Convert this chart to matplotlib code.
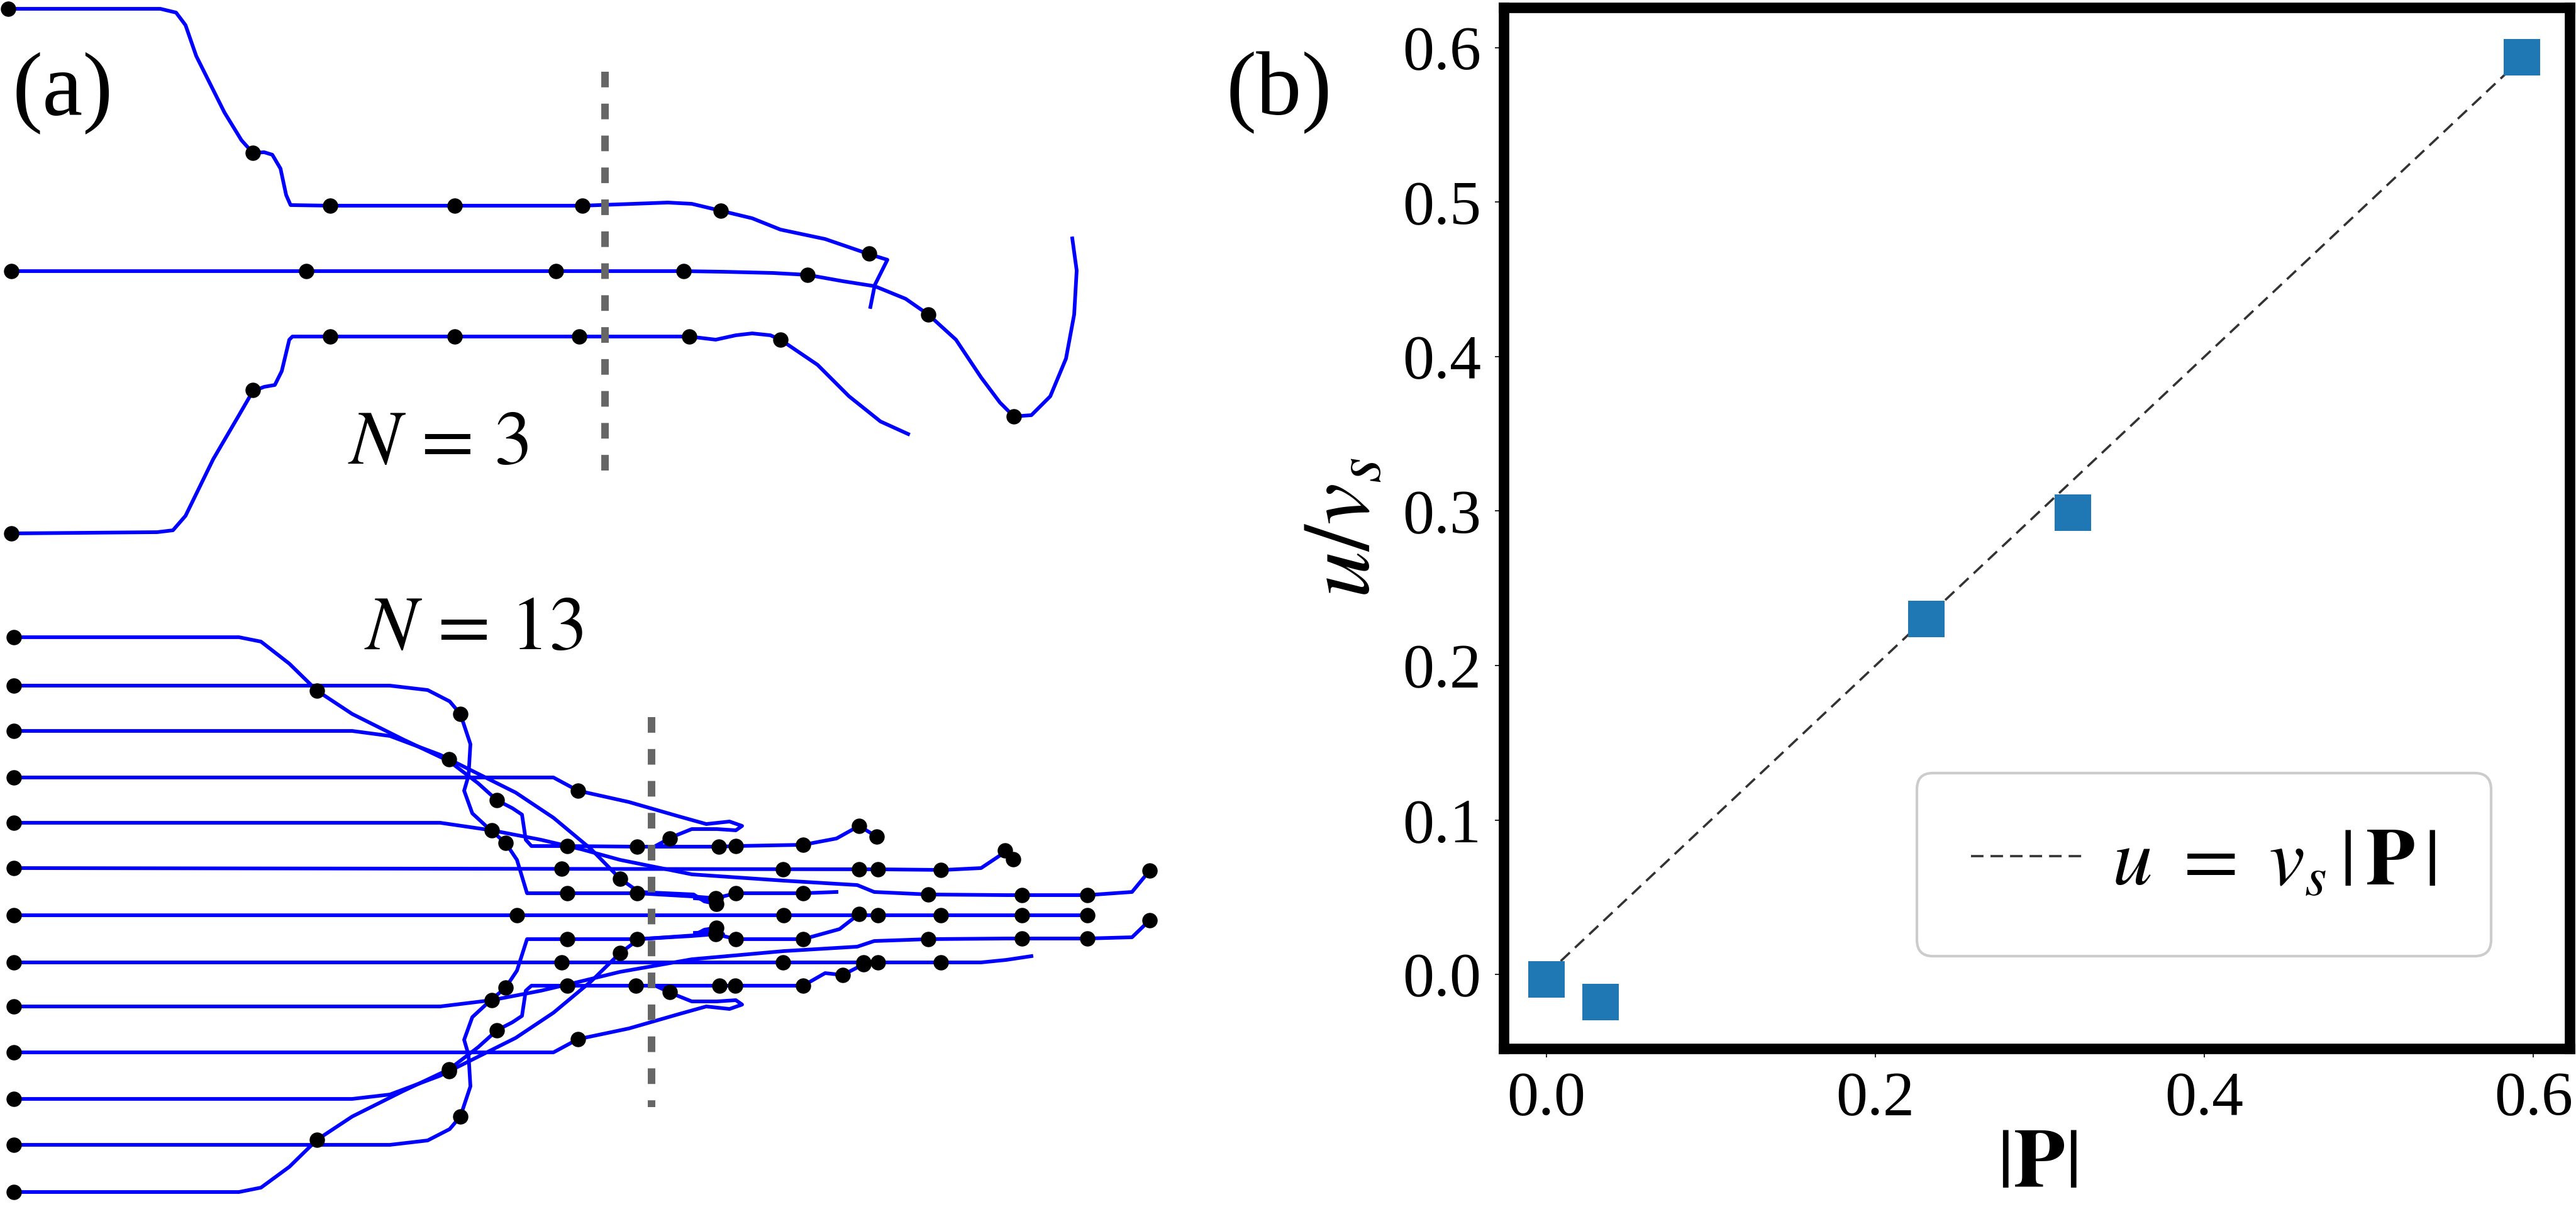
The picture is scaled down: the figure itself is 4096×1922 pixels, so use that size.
import matplotlib
matplotlib.use('Agg')
import matplotlib.pyplot as plt

plt.rcParams['mathtext.fontset'] = 'stix'
plt.rcParams['font.family'] = ['Liberation Serif', 'DejaVu Serif']

# ---------------- panel (a): trajectories (image pixel coordinates) ----------------
# N = 3
n3_t1_x = [13, 255, 280, 295, 312, 357, 384, 402, 420, 433, 446, 455, 462, 525, 723, 926, 1062, 1100, 1146, 1196, 1241, 1312, 1382, 1411, 1400, 1391, 1384]
n3_t1_y = [14, 14, 20, 40, 89, 179, 223, 243, 242, 246, 268, 310, 326, 327, 327, 327, 322, 324, 335, 347, 365, 380, 404, 413, 435, 453, 488]
n3_t2_x = [18, 1087, 1150, 1230, 1284, 1340, 1391, 1440, 1476, 1520, 1560, 1590, 1612, 1640, 1670, 1695, 1708, 1712, 1705]
n3_t2_y = [431, 431, 432, 434, 437, 447, 455, 475, 500, 540, 600, 640, 662, 660, 630, 570, 500, 430, 379]
n3_t3_x = [18, 250, 275, 295, 339, 380, 402, 420, 437, 448, 460, 465, 525, 723, 921, 1096, 1138, 1170, 1196, 1225, 1241, 1300, 1350, 1400, 1444]
n3_t3_y = [848, 846, 843, 820, 730, 660, 622, 615, 612, 590, 540, 535, 535, 535, 535, 535, 540, 533, 530, 533, 540, 580, 630, 670, 690]
n3_dots_x = [13, 402, 525, 723, 926, 1146, 1382, 18, 487, 884, 1087, 1284, 1476, 1612, 18, 402, 525, 723, 921, 1096, 1241]
n3_dots_y = [14, 243, 327, 327, 327, 335, 403, 431, 431, 431, 431, 437, 500, 662, 848, 620, 535, 535, 535, 535, 540]

# N = 13
n13_paths = [
    ([22, 380, 415, 460, 504, 560, 640, 714, 760, 790, 815, 830, 836, 845, 902, 1013, 1143, 1170, 1277, 1330, 1366, 1394],
     [1013, 1013, 1020, 1055, 1098, 1135, 1175, 1210, 1245, 1272, 1285, 1295, 1335, 1345, 1345, 1346, 1346, 1345, 1343, 1333, 1313, 1330]),
    ([22, 620, 680, 715, 732, 748, 745, 738, 751, 777, 804, 822, 838, 902, 1013, 1100, 1138, 1170, 1277, 1330],
     [1090, 1090, 1097, 1115, 1135, 1183, 1233, 1257, 1293, 1317, 1340, 1367, 1420, 1420, 1420, 1425, 1428, 1420, 1420, 1418]),
    ([22, 560, 620, 700, 760, 820, 880, 940, 986, 1016, 1060, 1103, 1120, 1139, 1150, 1130, 1105],
     [1162, 1162, 1170, 1200, 1230, 1260, 1300, 1350, 1397, 1418, 1420, 1422, 1433, 1437, 1425, 1430, 1428]),
    ([22, 880, 919, 1000, 1080, 1123, 1160, 1180, 1170, 1140, 1100, 1070, 1042, 1060],
     [1236, 1236, 1257, 1275, 1298, 1310, 1306, 1313, 1320, 1318, 1318, 1330, 1345, 1345]),
    ([22, 700, 782, 860, 924, 986, 1100, 1246, 1363, 1390, 1476, 1600, 1729, 1800, 1828],
     [1308, 1308, 1320, 1335, 1350, 1367, 1390, 1400, 1407, 1418, 1422, 1423, 1423, 1418, 1384]),
    ([22, 1400, 1500, 1560, 1590, 1598, 1611],
     [1380, 1382, 1383, 1380, 1360, 1352, 1366]),
    ([22, 1729],
     [1455, 1455]),
    ([22, 1560, 1600, 1640],
     [1530, 1530, 1526, 1520]),
    ([22, 700, 782, 860, 924, 986, 1100, 1246, 1363, 1390, 1476, 1600, 1729, 1800, 1828],
     [1600, 1600, 1590, 1575, 1560, 1545, 1525, 1512, 1505, 1496, 1493, 1492, 1492, 1490, 1463]),
    ([22, 880, 919, 1000, 1080, 1123, 1160, 1180, 1170, 1140, 1100, 1070, 1042, 1060],
     [1673, 1673, 1652, 1635, 1612, 1600, 1604, 1597, 1590, 1592, 1592, 1580, 1567, 1567]),
    ([22, 560, 620, 700, 760, 820, 880, 940, 986, 1016, 1060, 1103, 1120, 1139, 1150, 1130, 1105],
     [1747, 1747, 1740, 1710, 1680, 1650, 1610, 1560, 1515, 1493, 1490, 1487, 1478, 1475, 1485, 1482, 1483]),
    ([22, 620, 680, 715, 732, 748, 745, 738, 751, 777, 804, 822, 838, 902, 1013, 1100, 1138, 1170, 1277, 1335, 1366],
     [1820, 1820, 1813, 1795, 1775, 1727, 1677, 1653, 1617, 1593, 1570, 1543, 1493, 1493, 1493, 1488, 1485, 1493, 1493, 1477, 1453]),
    ([22, 380, 415, 460, 504, 560, 640, 714, 760, 790, 815, 830, 836, 845, 902, 1011, 1144, 1169, 1277, 1312, 1340, 1373],
     [1895, 1895, 1888, 1855, 1812, 1775, 1735, 1700, 1665, 1638, 1625, 1615, 1575, 1567, 1567, 1567, 1567, 1567, 1567, 1547, 1550, 1533]),
]
n13_dots_x = [22, 504, 790, 902, 1013, 1143, 1170, 1277, 1366, 1394,
              22, 732, 804, 902, 1013, 1138, 1170, 1277,
              22, 714, 986, 1139,
              22, 919, 1065,
              22, 782, 1476, 1625, 1729, 1828,
              22, 893, 1245, 1366, 1396, 1496, 1598, 1611,
              22, 822, 1246, 1396, 1496, 1625, 1729,
              22, 893, 1245, 1373, 1396, 1496,
              22, 782, 1476, 1625, 1729, 1828,
              22, 919, 1065,
              22, 714, 986, 1139,
              22, 732, 804, 902, 1013, 1138, 1170, 1277, 1366,
              22, 504, 714, 790, 902, 1011, 1144, 1169, 1277, 1340, 1373]
n13_dots_y = [1013, 1098, 1272, 1345, 1346, 1346, 1345, 1343, 1313, 1330,
              1090, 1135, 1340, 1420, 1420, 1428, 1420, 1420,
              1162, 1207, 1397, 1437,
              1236, 1257, 1333,
              1308, 1320, 1422, 1423, 1423, 1384,
              1380, 1381, 1382, 1382, 1382, 1383, 1352, 1366,
              1455, 1455, 1455, 1455, 1455, 1455, 1455,
              1530, 1530, 1530, 1530, 1530, 1530,
              1600, 1590, 1493, 1492, 1492, 1463,
              1673, 1652, 1577,
              1747, 1703, 1515, 1475,
              1820, 1775, 1570, 1493, 1493, 1485, 1493, 1493, 1453,
              1895, 1812, 1700, 1638, 1567, 1567, 1567, 1567, 1567, 1550, 1533]

dash_top_x, dash_top_y = [962, 962], [114, 750]
dash_bot_x, dash_bot_y = [1036, 1036], [1140, 1760]

# ---------------- panel (b) data ----------------
P_abs = [0.000, 0.033, 0.231, 0.320, 0.593]
u_over_vs = [-0.003, -0.018, 0.230, 0.299, 0.594]
fit_x = [0.0, 0.593]
fit_y = [0.0, 0.593]
xticks_b = [0.0, 0.2, 0.4, 0.6]
yticks_b = [0.0, 0.1, 0.2, 0.3, 0.4, 0.5, 0.6]

W, H = 4096, 1922
DPI = 200
fig = plt.figure(figsize=(W / DPI, H / DPI), dpi=DPI)

ax_a = fig.add_axes([0, 0, 0.5, 1])
ax_a.set_xlim(0, 2048)
ax_a.set_ylim(1922, 0)
ax_a.axis('off')

blue = '#0000ff'
lw_traj = 2.1
for xs, ys in [(n3_t1_x, n3_t1_y), (n3_t2_x, n3_t2_y), (n3_t3_x, n3_t3_y)]:
    ax_a.plot(xs, ys, color=blue, lw=lw_traj, solid_joinstyle='round', zorder=2, clip_on=False)
for xs, ys in n13_paths:
    ax_a.plot(xs, ys, color=blue, lw=lw_traj, solid_joinstyle='round', zorder=2, clip_on=False)
ax_a.plot(n3_dots_x, n3_dots_y, 'o', color='black', ms=8.8, mew=0, zorder=3, clip_on=False)
ax_a.plot(n13_dots_x, n13_dots_y, 'o', color='black', ms=8.8, mew=0, zorder=3, clip_on=False)

gray_lw = 4.3
ax_a.plot(dash_top_x, dash_top_y, color='#666666', lw=gray_lw, dashes=(2.08, 2.17), zorder=4)
ax_a.plot(dash_bot_x, dash_bot_y, color='#666666', lw=gray_lw, dashes=(2.08, 2.17), zorder=4)

ax_a.text(697, 707, r'$N\,=\,3$', fontsize=44, ha='center', va='center')
ax_a.text(753, 1002, r'$N\,=\,13$', fontsize=44, ha='center', va='center')
ax_a.text(20, 148, '(a)', fontsize=52, ha='left', va='center')
ax_a.text(1950, 148, '(b)', fontsize=52, ha='left', va='center')

# ---------------- panel (b) ----------------
ax_b = fig.add_axes([2391 / W, 1 - 1667 / H, (4086 - 2391) / W, (1667 - 12) / H])
ax_b.plot(fit_x, fit_y, color='#333333', lw=1.3, dashes=(5.5, 3.1), zorder=2,
          label=r'$u\ =\ v_s\,|\,\mathbf{P}\,|$')
ax_b.plot(P_abs, u_over_vs, 's', color='#1f77b4', ms=21, mew=0, zorder=3)
ax_b.set_xlim(-0.026, 0.622)
ax_b.set_ylim(-0.048, 0.626)
ax_b.set_xticks(xticks_b)
ax_b.set_xticklabels([f'{v:.1f}' for v in xticks_b])
ax_b.set_yticks(yticks_b)
ax_b.set_yticklabels([f'{v:.1f}' for v in yticks_b])
for s in ax_b.spines.values():
    s.set_linewidth(6)
ax_b.tick_params(labelsize=36, length=5, width=0.6, pad=8)
ax_b.set_xlabel(r'$|\mathbf{P}|$', fontsize=48, labelpad=0)
ax_b.set_ylabel(r'$u/v_s$', fontsize=54, labelpad=8)

leg = ax_b.legend(loc='lower right', bbox_to_anchor=(0.926, 0.089), fontsize=46,
                  handlelength=1.4, handletextpad=0.35,
                  borderpad=0.68, fancybox=True, framealpha=1.0, borderaxespad=0)
leg.get_frame().set_edgecolor('#cccccc')
leg.get_frame().set_linewidth(1.5)

fig.savefig('out.png', dpi=DPI)
